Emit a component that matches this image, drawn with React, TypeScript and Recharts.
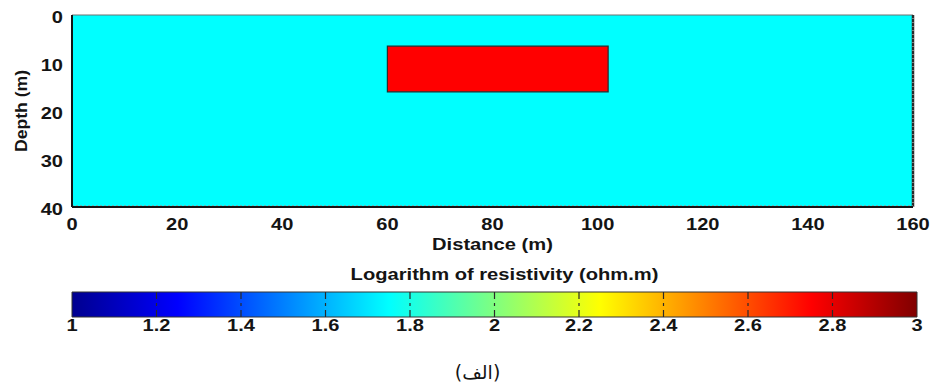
import React from 'react';
import { ComposedChart, XAxis, YAxis, ReferenceArea, ReferenceLine, Label } from 'recharts';

// Synthetic resistivity model: homogeneous half-space with one rectangular block
const distanceTicks = [0, 20, 40, 60, 80, 100, 120, 140, 160];
const depthTicks = [0, 10, 20, 30, 40];
const modelDistance = [0, 160];
const modelDepth = [0, 40];
const backgroundLogRho = 1.75;
const blockDistance = [60, 102];
const blockDepth = [6.5, 16];
const blockLogRho = 2.75;

// Colour scale (log10 resistivity)
const logRhoRange = [1, 3];
const colorTicks = [1, 1.2, 1.4, 1.6, 1.8, 2, 2.2, 2.4, 2.6, 2.8, 3];
const jetStops: [number, string][] = [
  [0, '#00008F'],
  [0.125, '#0000FF'],
  [0.375, '#00FFFF'],
  [0.625, '#FFFF00'],
  [0.875, '#FF0000'],
  [1, '#800000'],
];

const FONT = '"Liberation Sans", Arial, sans-serif';
const INK = '#141414';

function hexToRgb(h: string) {
  return [1, 3, 5].map((i) => parseInt(h.slice(i, i + 2), 16));
}

function jet(value: number) {
  const t = Math.min(1, Math.max(0, (value - logRhoRange[0]) / (logRhoRange[1] - logRhoRange[0])));
  for (let i = 1; i < jetStops.length; i++) {
    const [t1, c1] = jetStops[i];
    const [t0, c0] = jetStops[i - 1];
    if (t <= t1) {
      const f = (t - t0) / (t1 - t0);
      const a = hexToRgb(c0);
      const b = hexToRgb(c1);
      const rgb = a.map((v, k) => Math.round(v + (b[k] - v) * f));
      return `rgb(${rgb.join(',')})`;
    }
  }
  return jetStops[jetStops.length - 1][1];
}

function Stretched({ x, y, text, anchor = 'middle', size = 17, sx = 1.18, rotate = 0, weight = 700, family = FONT }: any) {
  const tf = rotate ? `translate(${x},${y}) rotate(${rotate}) scale(${sx},1)` : `translate(${x},${y}) scale(${sx},1)`;
  return (
    <text transform={tf} textAnchor={anchor} fontFamily={family} fontSize={size} fontWeight={weight} fill={INK}>
      {text}
    </text>
  );
}

const DistanceTick = (p: any) => <Stretched x={p.x} y={p.y + 23} text={String(p.payload.value)} />;
const DepthTick = (p: any) => <Stretched x={p.x - 9} y={p.y + 8} anchor="end" text={String(p.payload.value)} />;
const ColorTick = (p: any) => <Stretched x={p.x} y={p.y + 14} text={String(p.payload.value)} />;

const DistanceTitle = (p: any) => {
  const vb = p.viewBox;
  return <Stretched x={vb.x + vb.width / 2} y={vb.y + 43} text="Distance (m)" size={16} sx={1.26} />;
};

const DepthTitle = (p: any) => {
  const vb = p.viewBox;
  return <Stretched x={27} y={vb.y + vb.height / 2} text="Depth (m)" size={16} sx={1.1} rotate={-90} />;
};

const ColorbarTitles = (p: any) => {
  const vb = p.viewBox;
  return (
    <g>
      <Stretched x={vb.x + vb.width / 2 + 10} y={vb.y - 37} text="Logarithm of resistivity (ohm.m)" size={16} sx={1.26} />
      <text x={vb.x + vb.width / 2 - 17} y={vb.y + 62} textAnchor="middle" fontFamily='"DejaVu Sans", sans-serif' fontSize={19} fill={INK}>
        (الف)
      </text>
    </g>
  );
};

export default function App() {
  const innerColorTicks = colorTicks.slice(1, -1);
  return (
    <div style={{ position: 'absolute', left: 0, top: 0, width: 932, height: 389, background: '#fff', overflow: 'hidden' }}>
      <div style={{ position: 'absolute', left: 0, top: 0 }}>
        <ComposedChart width={932} height={262} data={[]} margin={{ top: 15, right: 19, bottom: 25, left: 12 }}>
          <XAxis
            type="number"
            dataKey="x"
            domain={modelDistance}
            ticks={distanceTicks}
            allowDataOverflow
            height={30}
            tickSize={0}
            tickMargin={0}
            tickLine={false}
            axisLine={{ stroke: INK, strokeWidth: 2 }}
            tick={DistanceTick}
          >
            <Label content={DistanceTitle} />
          </XAxis>
          <YAxis
            type="number"
            dataKey="y"
            reversed
            domain={modelDepth}
            ticks={depthTicks}
            allowDataOverflow
            width={60}
            tickSize={0}
            tickMargin={0}
            tickLine={false}
            axisLine={{ stroke: INK, strokeWidth: 2 }}
            tick={DepthTick}
          >
            <Label content={DepthTitle} />
          </YAxis>
          <ReferenceArea
            x1={modelDistance[0]}
            x2={modelDistance[1]}
            y1={modelDepth[0]}
            y2={modelDepth[1]}
            fill={jet(backgroundLogRho)}
            fillOpacity={1}
            stroke="none"
          />
          <ReferenceArea
            x1={blockDistance[0]}
            x2={blockDistance[1]}
            y1={blockDepth[0]}
            y2={blockDepth[1]}
            fill={jet(blockLogRho)}
            fillOpacity={1}
            stroke="#2a2a2a"
            strokeWidth={1.2}
          />
          <ReferenceLine y={modelDepth[0]} stroke="#707070" strokeWidth={1} />
          <ReferenceLine x={modelDistance[1]} stroke="#2a2a2a" strokeWidth={2.5} />
          <ReferenceLine x={modelDistance[1]} stroke="#d8d8d8" strokeWidth={1} strokeDasharray="1 3" />
          <ReferenceLine y={39.75} stroke="#9a9a9a" strokeWidth={1} strokeDasharray="2 2" />
        </ComposedChart>
      </div>
      <div style={{ position: 'absolute', left: 0, top: 255 }}>
        <ComposedChart width={932} height={134} data={[]} margin={{ top: 37, right: 15, bottom: 42, left: 72 }}>
          <defs>
            <linearGradient id="jetScale" x1="0" y1="0" x2="1" y2="0">
              {jetStops.map(([o, c]) => (
                <stop key={o} offset={o} stopColor={c} />
              ))}
            </linearGradient>
          </defs>
          <XAxis
            type="number"
            dataKey="v"
            domain={logRhoRange}
            ticks={colorTicks}
            allowDataOverflow
            height={30}
            tickSize={0}
            tickMargin={0}
            tickLine={false}
            axisLine={false}
            tick={ColorTick}
          >
            <Label content={ColorbarTitles} />
          </XAxis>
          <YAxis type="number" dataKey="w" domain={[0, 1]} allowDataOverflow hide />
          <ReferenceArea
            x1={logRhoRange[0]}
            x2={logRhoRange[1]}
            y1={0}
            y2={1}
            fill="url(#jetScale)"
            fillOpacity={1}
            stroke="#333"
            strokeWidth={1}
          />
          {innerColorTicks.map((t) => (
            <ReferenceLine key={t} x={t} stroke="#2a2a2a" strokeWidth={1.2} strokeDasharray="7 4 3 4 7" />
          ))}
        </ComposedChart>
      </div>
    </div>
  );
}
